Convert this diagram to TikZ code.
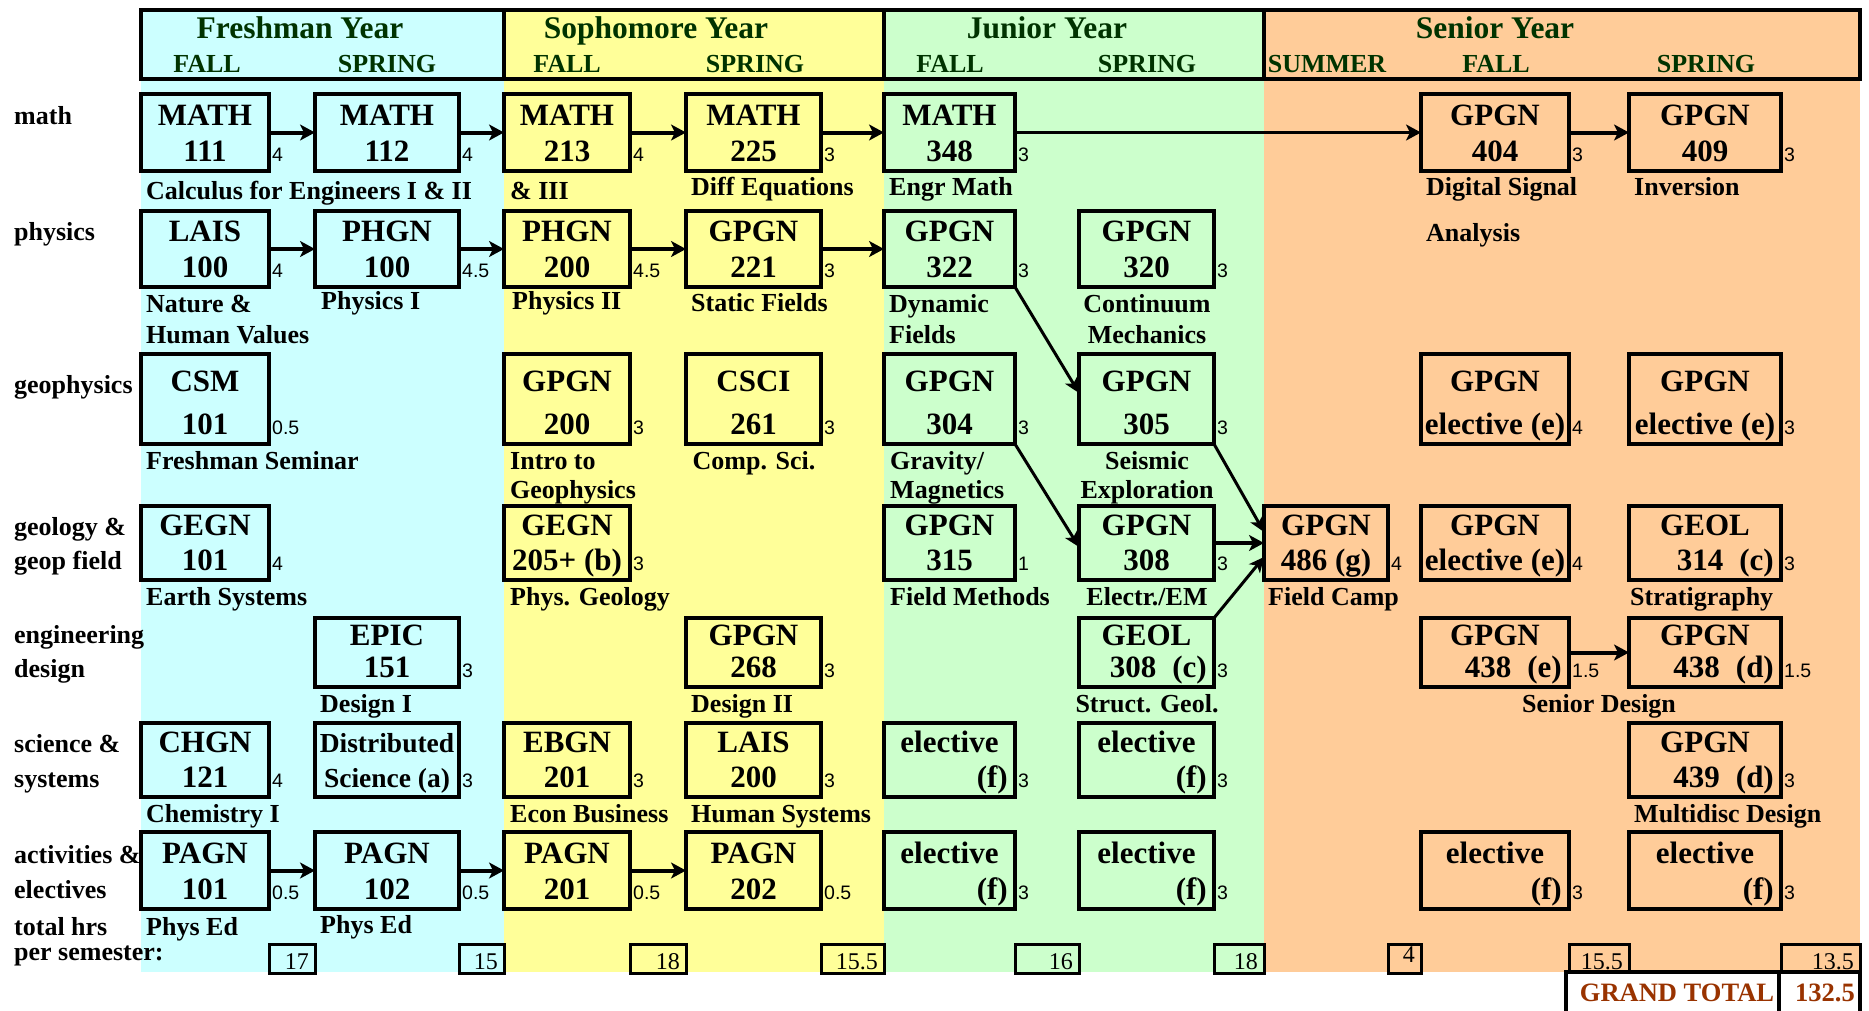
\documentclass[tikz,border=0pt]{standalone}
\usepackage{fontspec}
\setmainfont{Liberation Serif}
\newfontfamily\crfont{Liberation Sans}
\usetikzlibrary{arrows.meta,calc}
\definecolor{fresh}{HTML}{CCFFFF}
\definecolor{soph}{HTML}{FFFF99}
\definecolor{junior}{HTML}{CCFFCC}
\definecolor{senior}{HTML}{FFCC99}
\definecolor{hdgreen}{HTML}{003300}
\definecolor{gtred}{HTML}{993300}
\newcommand\fsz[1]{\fontsize{#1}{#1}\selectfont}
\tikzset{
  cbox/.style={draw=black, line width=3.2pt, inner sep=0pt, outer sep=0pt},
  ctext/.style={inner sep=0pt, font={\fsz{31}\bfseries}},
  cred/.style={inner sep=0pt, font={\crfont\fsz{19.5}}},
  dtext/.style={inner sep=0pt, font={\fsz{26}\bfseries}},
  rlab/.style={inner sep=0pt, font={\fsz{26}\bfseries}, anchor=base west},
  ttl/.style={inner sep=0pt, font={\fsz{31.5}\bfseries}, text=hdgreen, anchor=base},
  sem/.style={inner sep=0pt, font={\fsz{26}\bfseries}, text=hdgreen, anchor=base},
  tbox/.style={draw=black, line width=3pt, inner sep=0pt, outer sep=0pt},
  tnum/.style={inner sep=0pt, font={\fsz{24}}},
  gbox/.style={draw=black, line width=3.5pt, inner sep=0pt, outer sep=0pt, fill=white},
  gtext/.style={inner sep=0pt, font={\fsz{26.5}\bfseries}, text=gtred},
  arr/.style={line width=4pt, -{Stealth[length=15pt,width=16pt,inset=4pt]}},
  arrd/.style={line width=3pt, -{Stealth[length=15pt,width=14pt,inset=4pt]}},
}
% name x1 y1 x2 y2 line1 line2 credit align(c/r)
\newcommand\course[9]{%
  \node[cbox, minimum width={(#4-#2)*1pt}, minimum height={(#5-#3)*1pt}] (#1) at ({(#2+#4)/2},{(#3+#5)/2}) {};
  \node[ctext, anchor=base] (#1a) at ({(#2+#4)/2},{(#3+#5)/2-7.5}) {#6};
  \if#9r
    \node[ctext, anchor=base east] (#1b) at ({#4-7},{#5-10}) {#7};
  \else
    \node[ctext, anchor=base] (#1b) at ({(#2+#4)/2},{#5-10}) {#7};
  \fi
  \node[cred, anchor=base west] (#1c) at ({#4+3},{#5-10}) {#8};
}
\newcommand\desc[4]{\node[dtext, anchor=base west] (#1) at (#2,#3) {#4};}
\newcommand\descc[4]{\node[dtext, anchor=base] (#1) at (#2,#3) {#4};}
\newcommand\tot[5]{%
  \node[tbox, minimum width={(#3-#2)*1pt}, minimum height=29pt] (#1) at ({(#2+#3)/2},958.5) {};
  \node[tnum, anchor=base east] (#1n) at ({#3-6},#5) {#4};
}
\newcommand\gap{\hspace{16pt}}
\begin{document}
\begin{tikzpicture}[x=1pt,y=-1pt]
\useasboundingbox (0,0) rectangle (1869,1010);
\fill[white] (0,0) rectangle (1869,1010);
% column backgrounds
\fill[fresh] (141,10) rectangle (504,972);
\fill[soph] (504,10) rectangle (884,972);
\fill[junior] (884,10) rectangle (1264,972);
\fill[senior] (1264,10) rectangle (1860,972);
% header
\draw[line width=3.5pt] (141,10) rectangle (1860,79);
\draw[line width=3.5pt] (504,10) -- (504,79) (884,10) -- (884,79) (1264,10) -- (1264,79);
\node[ttl] (hF) at (300,38) {Freshman Year};
\node[ttl] (hS) at (656,38) {Sophomore Year};
\node[ttl] (hJ) at (1047,38) {Junior Year};
\node[ttl] (hN) at (1495,38) {Senior Year};
\node[sem] (s1) at (207,72) {FALL};
\node[sem] (s2) at (387,72) {SPRING};
\node[sem] (s3) at (567,72) {FALL};
\node[sem] (s4) at (755,72) {SPRING};
\node[sem] (s5) at (950,72) {FALL};
\node[sem] (s6) at (1147,72) {SPRING};
\node[sem] (s7) at (1327,72) {SUMMER};
\node[sem] (s8) at (1496,72) {FALL};
\node[sem] (s9) at (1706,72) {SPRING};
% row labels
\node[rlab] (r1) at (14,124) {math};
\node[rlab] (r2) at (14,240) {physics};
\node[rlab] (r3) at (14,393) {geophysics};
\node[rlab] (r4a) at (14,535) {geology \&};
\node[rlab] (r4b) at (14,569) {geop field};
\node[rlab] (r5a) at (14,643) {engineering};
\node[rlab] (r5b) at (14,677) {design};
\node[rlab] (r6a) at (14,752) {science \&};
\node[rlab] (r6b) at (14,787) {systems};
\node[rlab] (r7a) at (14,863) {activities \&};
\node[rlab] (r7b) at (14,898) {electives};
\node[rlab] (r8a) at (14,935) {total hrs};
\node[rlab] (r8b) at (14,960) {per semester:};
% row 1: math
\course{m111}{141}{94}{269}{171}{MATH}{111}{4}{c}
\course{m112}{315}{94}{459}{171}{MATH}{112}{4}{c}
\course{m213}{504}{94}{630}{171}{MATH}{213}{4}{c}
\course{m225}{686}{94}{821}{171}{MATH}{225}{3}{c}
\course{m348}{884}{94}{1015}{171}{MATH}{348}{3}{c}
\course{g404}{1421}{94}{1569}{171}{GPGN}{404}{3}{c}
\course{g409}{1629}{94}{1781}{171}{GPGN}{409}{3}{c}
% row 2: physics
\course{l100}{141}{211}{269}{287}{LAIS}{100}{4}{c}
\course{p100}{315}{211}{459}{287}{PHGN}{100}{4.5}{c}
\course{p200}{504}{211}{630}{287}{PHGN}{200}{4.5}{c}
\course{g221}{686}{211}{821}{287}{GPGN}{221}{3}{c}
\course{g322}{884}{211}{1015}{287}{GPGN}{322}{3}{c}
\course{g320}{1079}{211}{1214}{287}{GPGN}{320}{3}{c}
% row 3: geophysics
\course{c101}{141}{354}{269}{444}{CSM}{101}{0.5}{c}
\course{g200}{504}{354}{630}{444}{GPGN}{200}{3}{c}
\course{cs261}{686}{354}{821}{444}{CSCI}{261}{3}{c}
\course{g304}{884}{354}{1015}{444}{GPGN}{304}{3}{c}
\course{g305}{1079}{354}{1214}{444}{GPGN}{305}{3}{c}
\course{geH}{1421}{354}{1569}{444}{GPGN}{elective (e)}{4}{c}
\course{geI}{1629}{354}{1781}{444}{GPGN}{elective (e)}{3}{c}
% row 4: geology
\course{ge101}{141}{506}{269}{580}{GEGN}{101}{4}{c}
\course{ge205}{504}{506}{630}{580}{GEGN}{205+ (b)}{3}{c}
\course{g315}{884}{506}{1015}{580}{GPGN}{315}{1}{c}
\course{g308}{1079}{506}{1214}{580}{GPGN}{308}{3}{c}
\course{g486}{1264}{506}{1388}{580}{GPGN}{486 (g)}{4}{c}
\course{geHb}{1421}{506}{1569}{580}{GPGN}{elective (e)}{4}{c}
\course{geol314}{1629}{506}{1781}{580}{GEOL}{314\gap(c)}{3}{r}
% row 5: engineering design
\course{e151}{315}{618}{459}{687}{EPIC}{151}{3}{c}
\course{g268}{686}{618}{821}{687}{GPGN}{268}{3}{c}
\course{geol308}{1079}{618}{1214}{687}{GEOL}{308\gap(c)}{3}{r}
\course{g438e}{1421}{618}{1569}{687}{GPGN}{438\gap(e)}{1.5}{r}
\course{g438d}{1629}{618}{1781}{687}{GPGN}{438\gap(d)}{1.5}{r}
% row 6: science & systems
\course{ch121}{141}{723}{269}{797}{CHGN}{121}{4}{c}
\course{ds}{315}{723}{459}{797}{\fsz{27.5}Distributed}{\fsz{27.5}Science (a)}{3}{c}
\course{eb201}{504}{723}{630}{797}{EBGN}{201}{3}{c}
\course{la200}{686}{723}{821}{797}{LAIS}{200}{3}{c}
\course{elE}{884}{723}{1015}{797}{elective}{(f)}{3}{r}
\course{elF}{1079}{723}{1214}{797}{elective}{(f)}{3}{r}
\course{g439}{1629}{723}{1781}{797}{GPGN}{439\gap(d)}{3}{r}
% row 7: activities & electives
\course{pa101}{141}{832}{269}{909}{PAGN}{101}{0.5}{c}
\course{pa102}{315}{832}{459}{909}{PAGN}{102}{0.5}{c}
\course{pa201}{504}{832}{630}{909}{PAGN}{201}{0.5}{c}
\course{pa202}{686}{832}{821}{909}{PAGN}{202}{0.5}{c}
\course{elE2}{884}{832}{1015}{909}{elective}{(f)}{3}{r}
\course{elF2}{1079}{832}{1214}{909}{elective}{(f)}{3}{r}
\course{elH2}{1421}{832}{1569}{909}{elective}{(f)}{3}{r}
\course{elI2}{1629}{832}{1781}{909}{elective}{(f)}{3}{r}
% descriptions
\desc{dA1}{146}{199}{Calculus for Engineers I \& II}
\desc{dC1}{510}{199}{\& III}
\desc{dD1}{691}{195}{Diff Equations}
\desc{dE1}{889}{195}{Engr Math}
\desc{dH1}{1426}{195}{Digital Signal}
\desc{dH1b}{1426}{241}{Analysis}
\desc{dI1}{1634}{195}{Inversion}
\desc{dA2}{146}{312}{Nature \&}
\desc{dA2b}{146}{343}{Human Values}
\desc{dB2}{321}{309}{Physics I}
\desc{dC2}{512}{309}{Physics II}
\desc{dD2}{691}{311}{Static Fields}
\desc{dE2}{889}{312}{Dynamic}
\desc{dE2b}{889}{343}{Fields}
\descc{dF2}{1147}{312}{Continuum}
\descc{dF2b}{1147}{343}{Mechanics}
\desc{dA3}{146}{469}{Freshman Seminar}
\desc{dC3}{510}{469}{Intro to}
\desc{dC3b}{510}{498}{Geophysics}
\descc{dD3}{754}{469}{Comp. Sci.}
\desc{dE3}{890}{469}{Gravity/}
\desc{dE3b}{890}{498}{Magnetics}
\descc{dF3}{1147}{469}{Seismic}
\descc{dF3b}{1147}{498}{Exploration}
\desc{dA4}{146}{605}{Earth Systems}
\desc{dC4}{510}{605}{Phys. Geology}
\desc{dE4}{890}{605}{Field Methods}
\descc{dF4}{1147}{605}{Electr./EM}
\desc{dG4}{1268}{605}{Field Camp}
\desc{dI4}{1630}{605}{Stratigraphy}
\desc{dB5}{320}{712}{Design I}
\desc{dD5}{691}{712}{Design II}
\descc{dF5}{1147}{712}{Struct. Geol.}
\descc{dH5}{1599}{712}{Senior Design}
\desc{dA6}{146}{822}{Chemistry I}
\desc{dC6}{510}{822}{Econ Business}
\desc{dD6}{691}{822}{Human Systems}
\desc{dI6}{1634}{822}{Multidisc Design}
\desc{dA7}{146}{935}{Phys Ed}
\desc{dB7}{320}{933}{Phys Ed}
% arrows
\draw[arr] (m111.east) -- (m112.west);
\draw[arr] (m112.east) -- (m213.west);
\draw[arr] (m213.east) -- (m225.west);
\draw[arr] (m225.east) -- (m348.west);
\draw[arr,line width=3.5pt] (m348.east) -- (g404.west);
\draw[arr] (g404.east) -- (g409.west);
\draw[arr] (l100.east) -- (p100.west);
\draw[arr] (p100.east) -- (p200.west);
\draw[arr] (p200.east) -- (g221.west);
\draw[arr] (g221.east) -- (g322.west);
\draw[arrd] (g322.south east) -- ($(g305.west)+(0,-6)$);
\draw[arrd] (g304.south east) -- ($(g308.west)+(0,4)$);
\draw[arrd] (g305.south east) -- ($(g486.west)+(0,-11)$);
\draw[arr] (g308.east) -- (g486.west);
\draw[arrd] (geol308.north east) -- ($(g486.west)+(0,14)$);
\draw[arr] (g438e.east) -- (g438d.west);
\draw[arr] (pa101.east) -- (pa102.west);
\draw[arr] (pa102.east) -- (pa201.west);
\draw[arr] (pa201.east) -- (pa202.west);
% totals
\tot{t1}{269}{315}{17}{969}
\tot{t2}{459}{504}{15}{969}
\tot{t3}{630}{686}{18}{969}
\tot{t4}{821}{884}{15.5}{969}
\tot{t5}{1015}{1079}{16}{969}
\tot{t6}{1214}{1264}{18}{969}
\tot{t7}{1388}{1421}{4}{962}
\tot{t8}{1569}{1629}{15.5}{969}
\tot{t9}{1781}{1860}{13.5}{969}
% grand total
\node[gbox, minimum width=213pt, minimum height=44pt] (gt) at (1672.5,994) {};
\node[gtext, anchor=base] (gtt) at (1677,1001) {GRAND TOTAL};
\node[gbox, minimum width=81pt, minimum height=44pt] (gv) at (1819.5,994) {};
\node[gtext, anchor=base east] (gvt) at (1855,1001) {132.5};
\end{tikzpicture}
\end{document}
